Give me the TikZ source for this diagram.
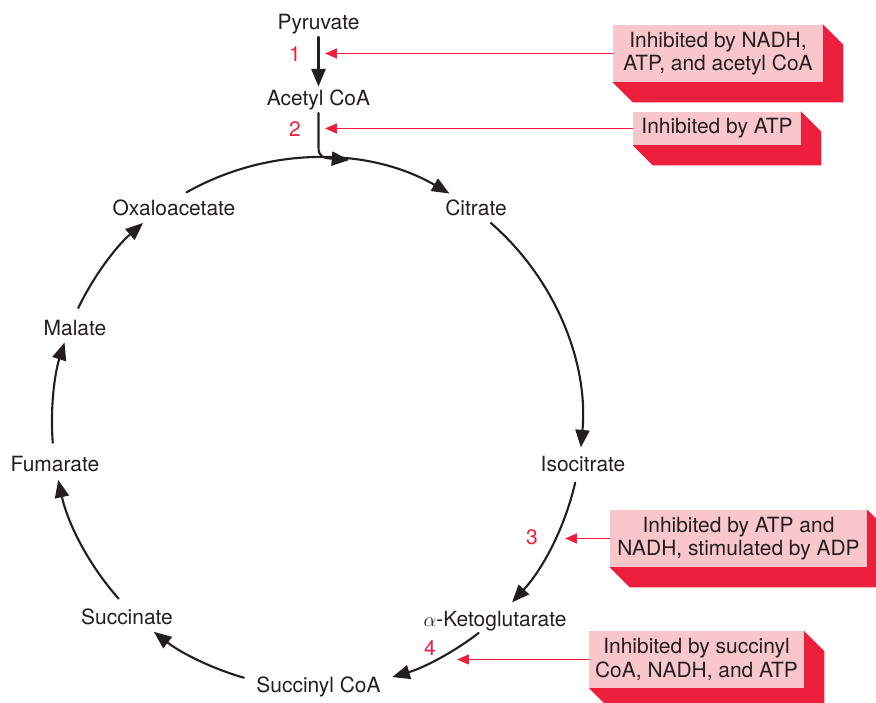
\documentclass[tikz,border=0pt]{standalone}
\usepackage{fontspec}
\setmainfont{TeX Gyre Heros}
\usetikzlibrary{arrows.meta,backgrounds}
\definecolor{inhred}{HTML}{EE1F3D}
\definecolor{inhpink}{HTML}{F9C6CB}
\definecolor{txtgray}{HTML}{231F20}
\begin{document}
\begin{tikzpicture}[x=0.025cm, y=0.025cm, line join=round, line cap=round,
		font=\fontsize{14.9}{16.5}\selectfont, text=txtgray,
		metab/.style={anchor=base, inner sep=2pt},
		stepnum/.style={anchor=base, inner sep=0pt, text=inhred},
		cyc/.style={line width=1.5pt, draw=txtgray, -{Triangle[length=12.5pt,width=10pt]}},
		inh/.style={line width=1.35pt, draw=inhred, -{Triangle[length=8.5pt,width=7pt]}},
		inhbox/.style={fill=inhpink, inner sep=0pt, align=center}]
	\useasboundingbox (0,0) rectangle (876,703);
	\coordinate (ctr) at (317,280);
	% metabolites
	\node[metab] (pyr) at (318.5,673.7) {Pyruvate};
	\node[metab] (acoa) at (318.5,597.7) {Acetyl CoA};
	\node[metab] (cit) at (476,487.7) {Citrate};
	\node[metab] (iso) at (583,231.7) {Isocitrate};
	\node[metab] (akg) at (495,76.7) {$\alpha$-Ketoglutarate};
	\node[metab] (sco) at (318.5,10.7) {Succinyl CoA};
	\node[metab] (suc) at (127,78) {Succinate};
	\node[metab] (fum) at (55,231.7) {Fumarate};
	\node[metab] (mal) at (75,367.5) {Malate};
	\node[metab] (oaa) at (174,487.5) {Oxaloacetate};
	% cycle
	\draw[cyc] (pyr) -- (acoa);
	\draw[cyc] (acoa.south) -- (318.5,556) .. controls (318.5,546) and (323,545) .. (349.3,543);
	\foreach \a/\b in {119.5/60, 49/-5.3, -13/-42.6, -52.4/-73.5, -106/-128, -138.5/-167.6, 184.3/162.3, 154.3/131}
		\draw[cyc] ([shift={(\a:265)}]ctr) arc[start angle=\a, end angle=\b, radius=265];
	% regulation
	\node[inhbox, minimum width=5.25cm, minimum height=1.425cm] (box1) at (718,649.5) {Inhibited by NADH,\\ATP, and acetyl CoA};
	\node[inhbox, minimum width=4.2cm, minimum height=0.825cm] (box2) at (717,574.5) {Inhibited by ATP};
	\node[inhbox, minimum width=6.425cm, minimum height=1.425cm] (box3) at (738.5,164.5) {Inhibited by ATP and\\NADH, stimulated by ADP};
	\node[inhbox, minimum width=5.375cm, minimum height=1.4cm] (box4) at (696.5,43.5) {Inhibited by succinyl\\CoA, NADH, and ATP};
	\begin{scope}[on background layer]
		\foreach \b in {box1,box2,box3,box4}
			\fill[inhred] (\b.south west) -- ++(20,-20) -- ([shift={(20,-20)}]\b.south east) -- ([shift={(20,-20)}]\b.north east) -- (\b.north east) -- cycle;
	\end{scope}
	\node[stepnum] (n1) at (295,641) {1};
	\node[stepnum] (n2) at (295,566) {2};
	\node[stepnum] (n3) at (532,158) {3};
	\node[stepnum] (n4) at (430,47.7) {4};
	\coordinate (t1) at (325,649.5);
	\coordinate (t2) at (325,574.5);
	\coordinate (t3) at (565,164.5);
	\coordinate (t4) at (457,43.5);
	\draw[inh] (box1.west) -- (t1);
	\draw[inh] (box2.west) -- (t2);
	\draw[inh] (box3.west) -- (t3);
	\draw[inh] (box4.west) -- (t4);
\end{tikzpicture}
\end{document}
